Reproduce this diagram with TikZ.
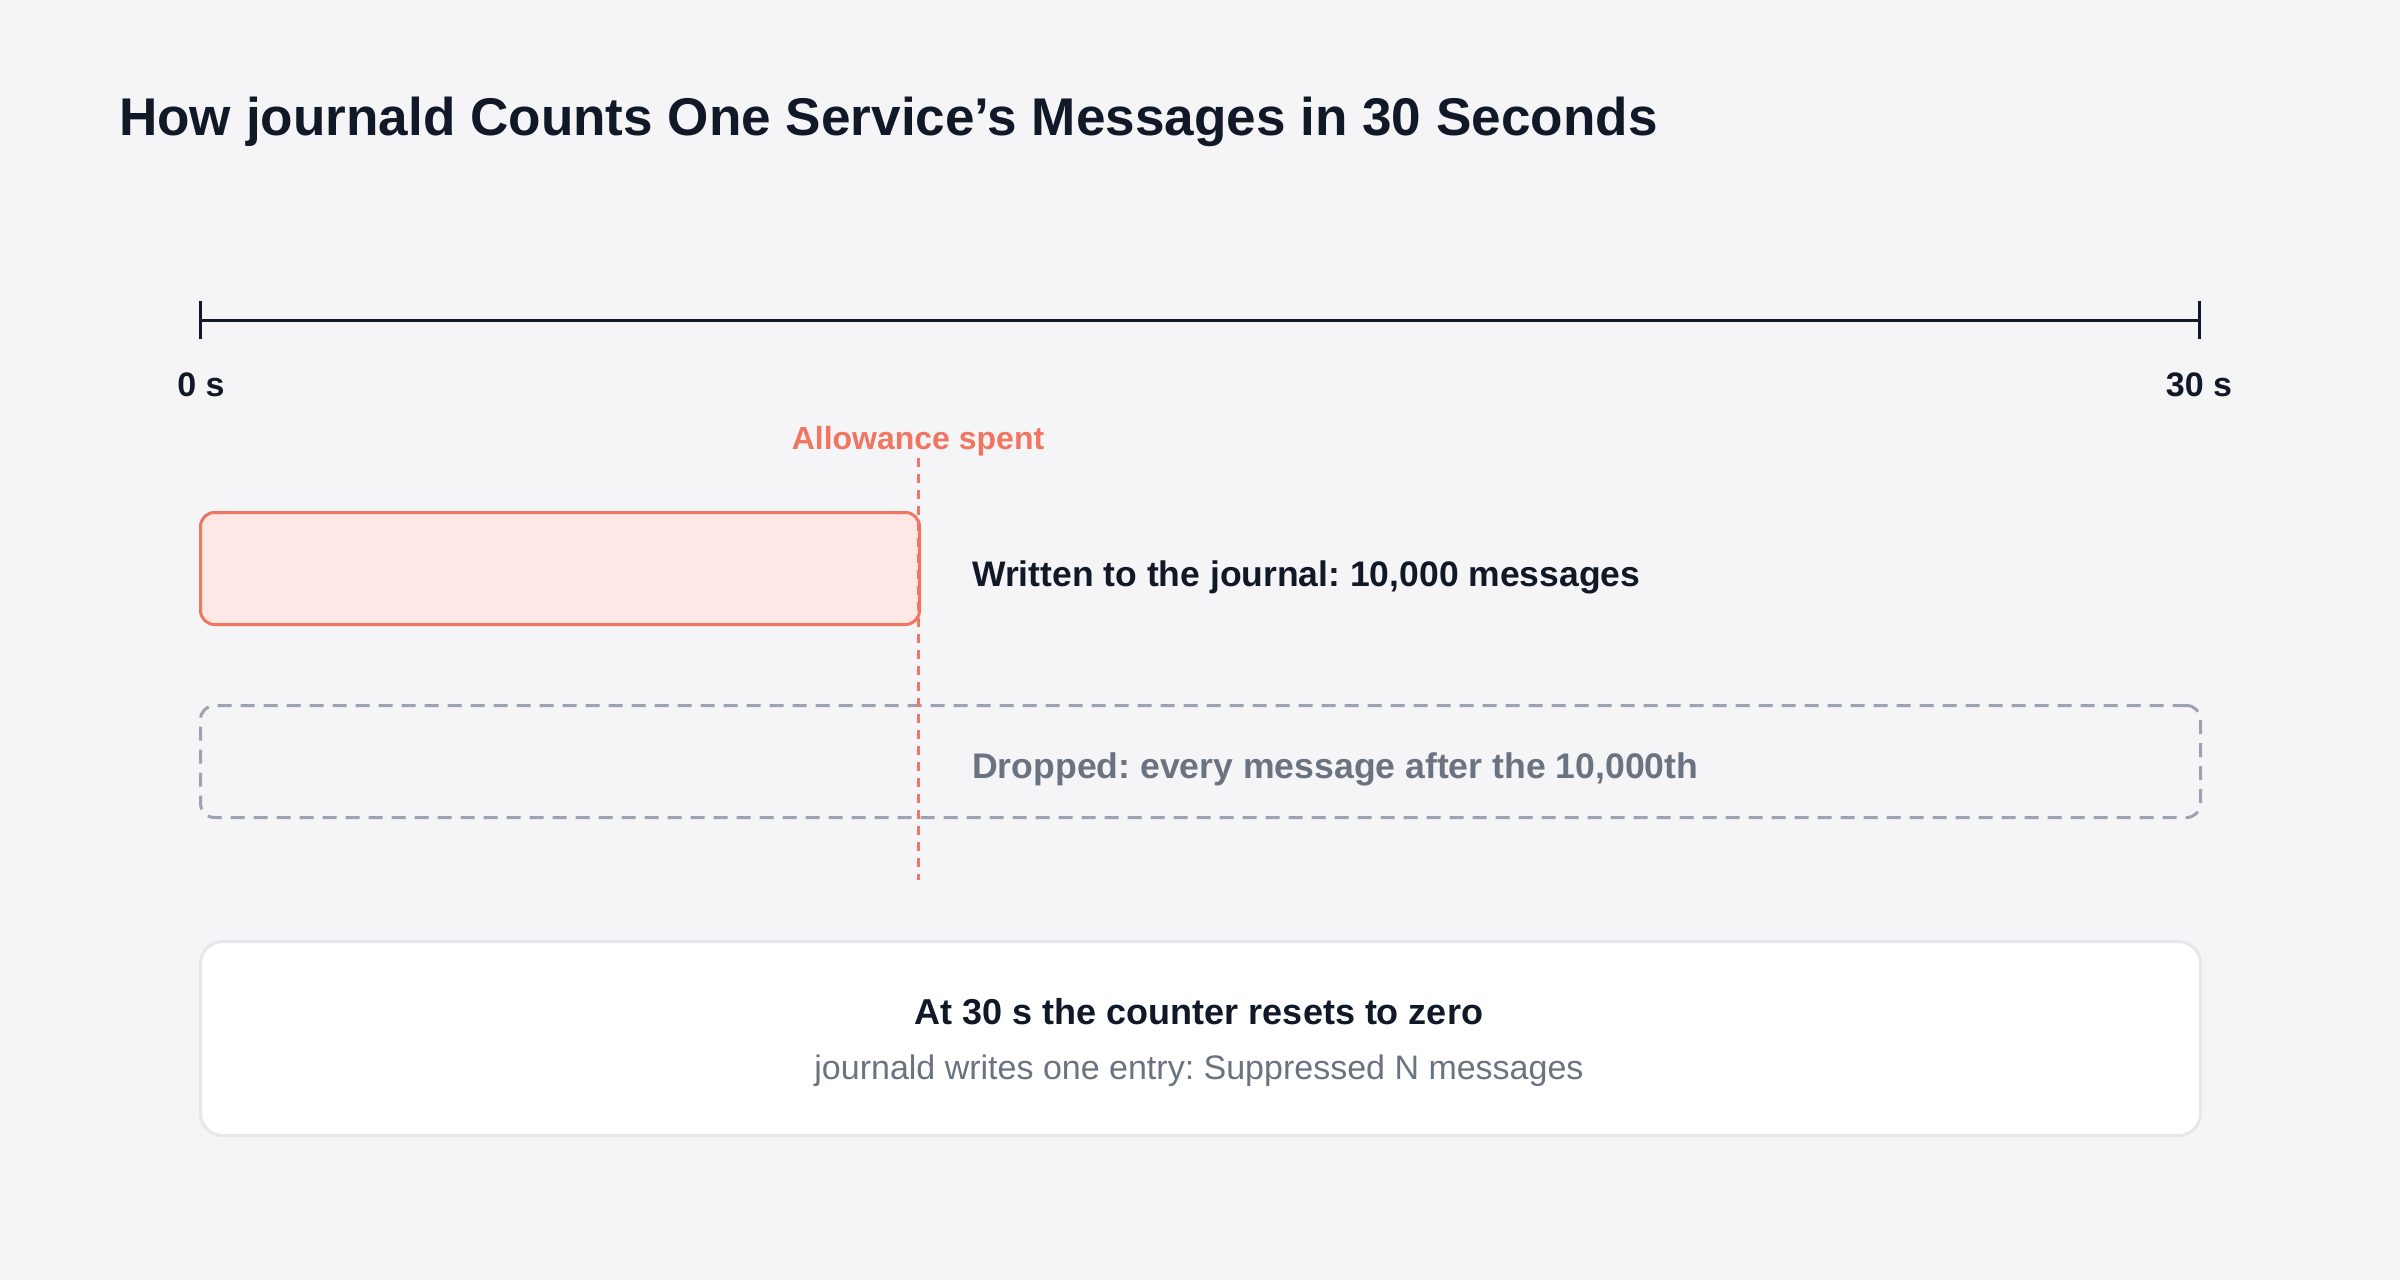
\documentclass[tikz,border=0pt]{standalone}
\usepackage{fontspec}
\setmainfont{Liberation Sans}
\definecolor{bg}{HTML}{F5F5F7}
\definecolor{ink}{HTML}{111827}
\definecolor{salmon}{HTML}{F07662}
\definecolor{salmonfill}{HTML}{FDE8E6}
\definecolor{slate}{HTML}{6B7280}
\definecolor{dashgray}{HTML}{9CA3AF}
\definecolor{cardline}{HTML}{E5E7EB}
\newcommand{\fs}[1]{\fontsize{#1}{#1}\selectfont}
\frenchspacing
\begin{document}
\begin{tikzpicture}[x=1pt,y=-1pt,
  lbl/.style={inner sep=0pt, font=\fs{34}\bfseries, text=ink},
  writtenbox/.style={draw=salmon, fill=salmonfill, line width=3pt, rounded corners=14pt},
  dropbox/.style={draw=dashgray, line width=3pt, dash pattern=on 14pt off 9pt, rounded corners=14pt},
  card/.style={draw=cardline, fill=white, line width=3pt, rounded corners=22pt}]
\fill[bg] (0,0) rectangle (2400,1280);
\useasboundingbox (0,0) rectangle (2400,1280);
\node[anchor=base west, inner sep=0pt, font=\fs{53.1}\bfseries, text=ink] (title) at (119,135) {How journald Counts One Service’s Messages in 30 Seconds};
% axis
\coordinate (a0) at (200,320);
\coordinate (a1) at (2199,320);
\draw[ink, line width=3pt] (a0) -- (a1);
\draw[ink, line width=3pt] (200,301) -- (200,339);
\draw[ink, line width=3pt] (2199,301) -- (2199,339);
\node[lbl, anchor=base] (t0) at (201,396) {0 s};
\node[lbl, anchor=base] (t30) at (2199,396) {30 s};
% allowance
\node[lbl, anchor=base, text=salmon, font=\fs{32}\bfseries] (allow) at (918,449) {Allowance spent};
\node[writtenbox, minimum width=719pt, minimum height=112pt, anchor=north west] (written) at (199,511) {};
\node[dropbox, minimum width=2000pt, minimum height=112pt, anchor=north west] (dropped) at (199,704) {};
\coordinate (d0) at (918.5,458);
\coordinate (d1) at (918.5,880);
\draw[salmon, line width=3pt, dash pattern=on 9pt off 7pt] (d0) -- (d1);
\node[lbl, anchor=base west, font=\fs{35.5}\bfseries] (wtext) at (972,586) {Written to the journal: 10,000 messages};
\node[lbl, anchor=base west, font=\fs{35.6}\bfseries, text=slate] (dtext) at (972,778) {Dropped: every message after the 10,000th};
% card
\node[card, minimum width=2000pt, minimum height=194pt, anchor=north west] (cardbox) at (199,940) {};
\node[lbl, anchor=base, font=\fs{36}\bfseries] (reset) at (1199,1024) {At 30 s the counter resets to zero};
\node[lbl, anchor=base, font=\fs{34}, text=slate] (entry) at (1199,1079) {journald writes one entry: Suppressed N messages};
\end{tikzpicture}
\end{document}
